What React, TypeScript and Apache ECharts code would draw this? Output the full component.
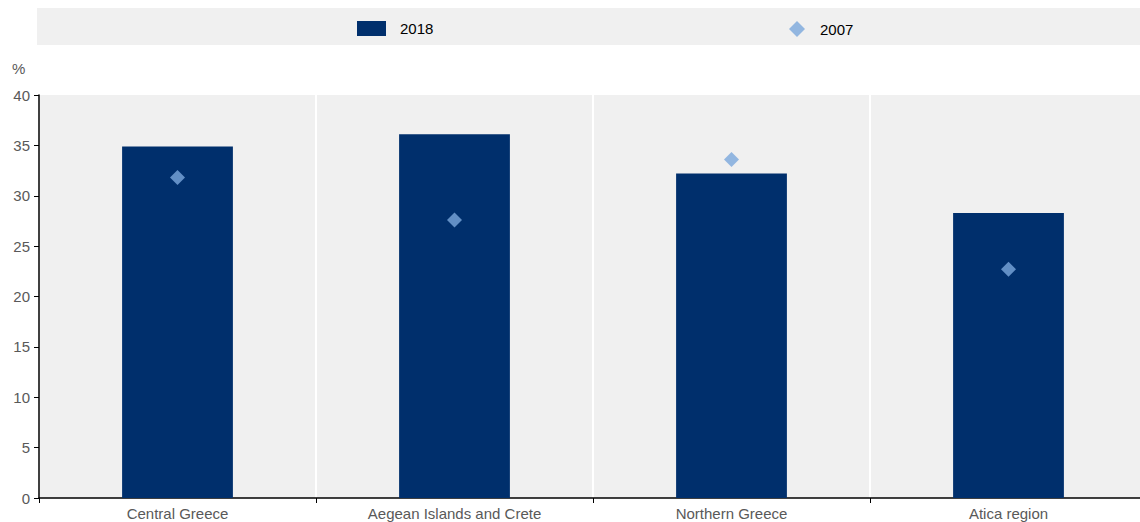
import React, { useEffect, useRef } from "react";
import * as echarts from "echarts";

const categories = ["Central Greece", "Aegean Islands and Crete", "Northern Greece", "Atica region"];
const values2018 = [34.9, 36.1, 32.2, 28.3];
const values2007 = [31.8, 27.6, 33.6, 22.7];
const yTicks = { min: 0, max: 40, interval: 5 };

const FONT = "'Liberation Sans', Arial, sans-serif";

export default function App() {
  const ref = useRef<HTMLDivElement>(null);
  useEffect(() => {
    document.body.style.margin = "0";
    const chart = echarts.init(ref.current!, null, { renderer: "svg" });
    chart.setOption({
      animation: false,
      textStyle: { fontFamily: FONT },
      graphic: [
        { type: "rect", left: 37, top: 8, shape: { width: 1120, height: 37 }, style: { fill: "#f0f0f0" }, z: -1 },
        { type: "text", left: 12, top: 61, style: { text: "%", fill: "#595959", font: `15px ${FONT}` } },
      ],
      legend: [
        {
          data: [{ name: "2018", icon: "rect" }],
          left: 357,
          top: 21,
          padding: 0,
          itemWidth: 29,
          itemHeight: 15,
          itemStyle: { borderWidth: 0 },
          textStyle: { color: "#000", fontSize: 15, fontFamily: FONT, padding: [0, 0, 0, 9] },
        },
        {
          data: [{ name: "2007", icon: "diamond" }],
          left: 789,
          top: 21,
          padding: 0,
          itemWidth: 16,
          itemHeight: 16,
          itemStyle: { borderWidth: 0 },
          textStyle: { color: "#000", fontSize: 15, fontFamily: FONT, padding: [0, 0, 0, 10] },
        },
      ],
      grid: { left: 39, top: 95, width: 1108, height: 403, containLabel: false },
      xAxis: {
        type: "category",
        data: categories,
        axisLine: { lineStyle: { color: "#000", width: 1.5 } },
        axisTick: { show: true, alignWithLabel: false, length: 5, lineStyle: { color: "#000" } },
        axisLabel: { color: "#595959", fontSize: 15, margin: 8, fontFamily: FONT },
        splitLine: { show: true, lineStyle: { color: "#fff", width: 2 } },
        splitArea: { show: true, areaStyle: { color: ["#f0f0f0", "#f0f0f0"] } },
      },
      yAxis: {
        type: "value",
        min: yTicks.min,
        max: yTicks.max,
        interval: yTicks.interval,
        axisLine: { show: true, lineStyle: { color: "#000", width: 1.5 } },
        axisTick: { show: true, length: 5, inside: false, lineStyle: { color: "#000" } },
        axisLabel: { color: "#595959", fontSize: 15, margin: 9, fontFamily: FONT },
        splitLine: { show: true, lineStyle: { color: "#fff", width: 2 } },
      },
      series: [
        {
          name: "2018",
          type: "bar",
          data: values2018,
          barWidth: "40%",
          itemStyle: { color: "#002f6c" },
          z: 2,
        },
        {
          name: "2007",
          type: "scatter",
          data: values2007,
          symbol: "diamond",
          symbolSize: 15,
          itemStyle: { color: "#7ba7dc" },
          z: 3,
        },
      ],
    });
    return () => chart.dispose();
  }, []);
  return (
    <div style={{ position: "absolute", left: 0, top: 0, width: 1140, height: 522, overflow: "hidden" }}>
      <div ref={ref} style={{ width: 1160, height: 522 }} />
    </div>
  );
}
